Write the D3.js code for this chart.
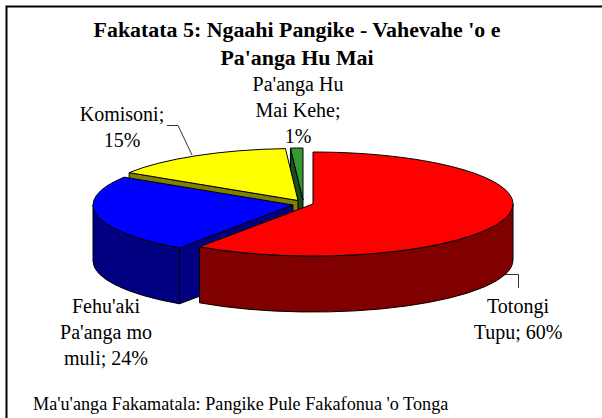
<!DOCTYPE html>
<html>
<head>
<meta charset="utf-8">
<script src="https://d3js.org/d3.v7.min.js"></script>
<style>
    html, body { margin: 0; padding: 0; background: #fff; }
    svg { display: block; }
    text { font-family: "Liberation Serif", serif; fill: #000; }
</style>
</head>
<body>
<svg id="chart" width="602" height="418"></svg>
<script>
    // chart data
    const categories = ["Totongi Tupu", "Fehu'aki Pa'anga mo muli", "Komisoni", "Pa'anga Hu Mai Kehe"];
    const shares = [59.6, 24.4, 15, 1];
    const topColors = ["#ff0000", "#0000ff", "#ffff00", "#339933"];
    const sideColors = ["#800000", "#000080", "#808000", "#1a4d1a"];
    const titleLines = ["Fakatata 5: Ngaahi Pangike - Vahevahe 'o e", "Pa'anga Hu Mai"];
    const sourceNote = "Ma'u'anga Fakamatala: Pangike Pule Fakafonua 'o Tonga";

    // each slice is pulled out a bit, so it has its own centre
    const centers = [[313, 204], [293, 205], [298, 200.5], [303, 200]];
    const rx = 200, ry = 52, depth = 56;

    const svg = d3.select("#chart");

    // frame
    svg.append("path")
        .attr("d", "M6.5,418V6.5H602")
        .attr("fill", "none")
        .attr("stroke", "#000")
        .attr("stroke-width", 2);

    // pie angles, clockwise from 12 o'clock
    const slices = d3.pie().sort(null)(shares);

    const rim = (c, a, dy = 0) => [c[0] + rx * Math.sin(a), c[1] - ry * Math.cos(a) + dy];
    const ell = (p, sweep) => `A${rx},${ry} 0 0 ${sweep} ${p[0]},${p[1]}`;

    // arc along the rim, split in two so large slices stay well formed
    function rimArc(c, a0, a1, dy, sweep) {
        const mid = (a0 + a1) / 2;
        return ell(rim(c, mid, dy), sweep) + ell(rim(c, a1, dy), sweep);
    }

    function topPath(c, s) {
        const p0 = rim(c, s.startAngle);
        return `M${c[0]},${c[1]}L${p0[0]},${p0[1]}` + rimArc(c, s.startAngle, s.endAngle, 0, 1) + "Z";
    }

    // outer wall, only the part that faces the viewer
    function wallPath(c, s) {
        const a0 = Math.max(s.startAngle, Math.PI / 2);
        const a1 = Math.min(s.endAngle, Math.PI * 1.5);
        if (a1 <= a0) return null;
        const p0 = rim(c, a0);
        const q1 = rim(c, a1, depth);
        return `M${p0[0]},${p0[1]}` + rimArc(c, a0, a1, 0, 1) + `L${q1[0]},${q1[1]}` + rimArc(c, a1, a0, depth, 0) + "Z";
    }

    // flat cut face from the centre to the rim
    function cutPath(c, a) {
        const p = rim(c, a);
        return `M${c[0]},${c[1]}L${p[0]},${p[1]}L${p[0]},${p[1] + depth}L${c[0]},${c[1] + depth}Z`;
    }

    // back to front
    const order = [3, 2, 1, 0];
    const pie3d = svg.append("g")
        .attr("stroke", "#000")
        .attr("stroke-width", 1)
        .attr("stroke-linejoin", "round");

    order.forEach(i => {
        const s = slices[i], c = centers[i];
        const g = pie3d.append("g");
        // faces that turn towards the viewer: the cut at the end of the slice
        if (i !== 0) {
            g.append("path").attr("d", cutPath(c, s.startAngle)).attr("fill", sideColors[i]);
        }
        const wall = wallPath(c, s);
        if (wall) g.append("path").attr("d", wall).attr("fill", sideColors[i]);
        g.append("path").attr("d", topPath(c, s)).attr("fill", topColors[i]);
    });

    // leader lines
    svg.append("path").attr("d", "M167,125.5L178,125.5L192,155").attr("fill", "none").attr("stroke", "#000").attr("stroke-width", 0.8);
    svg.append("path").attr("d", "M505,274.5L518.5,274.5L518.5,288").attr("fill", "none").attr("stroke", "#000").attr("stroke-width", 0.8);

    // title
    svg.append("g").selectAll("text").data(titleLines).join("text")
        .attr("x", 297)
        .attr("y", (d, i) => 37 + i * 28)
        .attr("text-anchor", "middle")
        .attr("font-size", 21.9)
        .attr("font-weight", "bold")
        .text(d => d);

    // slice labels
    const labels = [
        { lines: ["Totongi", "Tupu; 60%"], x: 518, y: 313 },
        { lines: ["Fehu'aki", "Pa'anga mo", "muli; 24%"], x: 106, y: 313 },
        { lines: ["Komisoni;", "15%"], x: 122, y: 121 },
        { lines: ["Pa'anga Hu", "Mai Kehe;", "1%"], x: 298, y: 91 }
    ];
    labels.forEach(l => {
        svg.append("g").selectAll("text").data(l.lines).join("text")
            .attr("x", l.x)
            .attr("y", (d, i) => l.y + i * 26)
            .attr("text-anchor", "middle")
            .attr("font-size", 20)
            .text(d => d);
    });

    // source
    svg.append("text")
        .attr("x", 33)
        .attr("y", 410)
        .attr("font-size", 18.2)
        .text(sourceNote);
</script>
</body>
</html>
